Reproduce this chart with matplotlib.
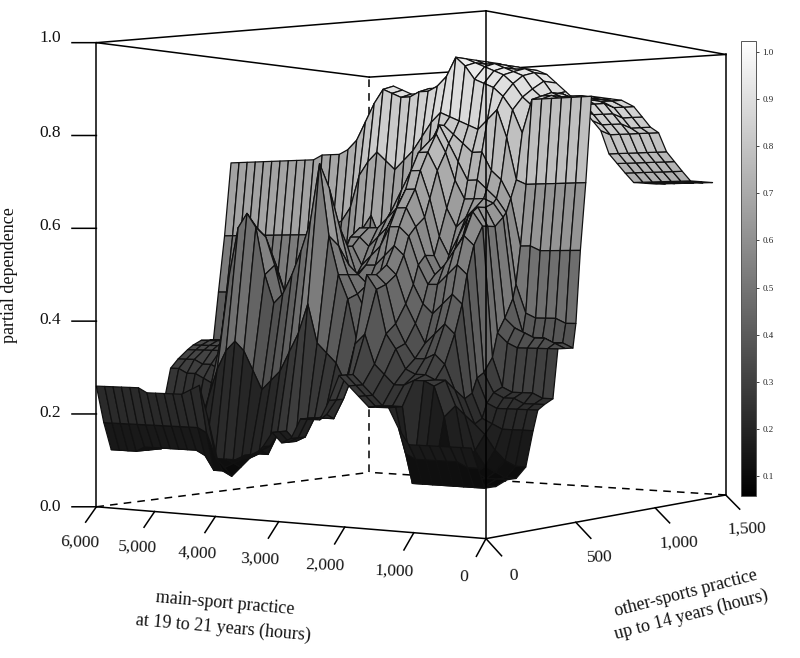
import matplotlib
matplotlib.use("Agg")
import matplotlib.pyplot as plt
import numpy as np
from matplotlib.colors import Normalize
from matplotlib.cm import ScalarMappable
from mpl_toolkits.mplot3d.art3d import Poly3DCollection

plt.rcParams['font.family'] = ['Liberation Serif', 'DejaVu Serif']

# grid of the surface (hours)
main_hours = [200, 345, 490, 635, 780, 925, 1070, 1215, 1360, 1505, 1650, 1795, 1940, 2085,
              2230, 2375, 2520, 2665, 2810, 2955, 3100, 3245, 3390, 3535, 3680, 3825, 3970,
              4115, 4260, 4405, 4550, 4695, 4840, 4985, 5130, 5275, 5420, 5565, 5710, 5855, 6000]
other_hours = [0, 35, 70, 130, 190, 240, 294, 335, 362, 400, 449, 478, 520, 567, 585, 612, 645,
               680, 740, 800, 870, 949, 1005, 1060, 1115, 1170, 1225, 1280, 1339, 1420, 1500]

# partial dependence x 100, one line per main-sport value, read along other-sports hours
z_near = [
    [17, 13, 9, 9, 10, 10, 12, 19, 23, 24, 25, 35, 35, 35, 40, 55, 69, 87, 87, 87, 87, 86, 84, 82, 81, 77, 75, 73, 71, 71, 71],
    [17, 13, 9, 9, 10, 10, 12, 19, 23, 24, 25, 35, 36, 36, 40, 55, 69, 87, 87, 87, 87, 86, 84, 82, 81, 77, 75, 73, 71, 71, 71],
    [17, 14, 9, 10, 10, 11, 13, 19, 23, 24, 26, 35, 37, 36, 41, 55, 69, 87, 87, 87, 87, 86, 84, 82, 81, 77, 75, 73, 71, 71, 71],
    [17, 14, 9, 10, 11, 12, 15, 19, 23, 25, 26, 35, 37, 37, 41, 55, 69, 87, 87, 88, 88, 87, 85, 83, 81, 77, 75, 73, 71, 71, 71],
    [17, 14, 9, 11, 13, 15, 18, 20, 23, 25, 26, 35, 38, 37, 41, 55, 69, 87, 87, 88, 88, 87, 85, 83, 81, 77, 75, 73, 71, 71, 71],
    [17, 14, 9, 22, 24, 22, 20, 21, 24, 26, 27, 36, 39, 38, 42, 56, 69, 87, 88, 88, 88, 87, 85, 83, 81, 77, 75, 73, 71, 71, 71],
    [17, 14, 9, 28, 29, 27, 25, 26, 29, 30, 33, 38, 41, 45, 48, 56, 69, 87, 88, 89, 89, 88, 86, 84, 82, 77, 75, 73, 71, 71, 71],
    [20, 15, 9, 29, 29, 32, 38, 44, 50, 56, 60, 60, 60, 62, 63, 66, 70, 80, 86, 88, 89, 90],
    [24, 24, 24, 29, 30, 34, 40, 46, 52, 58, 63, 64, 64, 65, 66, 70, 79, 85, 88, 90, 92, 92],
    [24, 24, 24, 28, 30, 33, 38, 44, 50, 55, 58, 62, 64, 66, 68, 72, 85, 88, 91, 93, 94, 94],
    [24, 24, 24, 28, 31, 33, 36, 42, 48, 52, 54, 58, 62, 66, 70, 76, 83, 90, 93, 94, 95, 95],
    [26, 26, 26, 30, 35, 36, 40, 44, 48, 50, 50, 54, 60, 66, 70, 76, 81, 91, 94, 95, 95, 95],
    [28, 28, 28, 32, 38, 40, 44, 48, 52, 54, 54, 58, 64, 70, 74, 78, 82, 92, 95, 96, 96, 96],
    [30, 30, 30, 38, 47, 48, 50, 54, 58, 60, 62, 66, 72, 76, 78, 80, 83, 95, 96, 96, 96, 96],
    [25, 25, 25, 36, 50, 50, 52, 56, 60, 64, 68, 72, 76, 80, 82, 82, 84, 97, 97, 97, 97, 97],
]
z_mid = [
    [21, 22, 21, 28, 36, 42, 48, 54, 60, 64, 68, 72, 76, 78, 78, 78, 85, 93, 94],
    [21, 21, 21, 32, 45, 46, 48, 52, 56, 60, 64, 68, 70, 70, 68, 70, 83, 91, 92],
    [21, 21, 21, 34, 50, 50, 50, 52, 54, 58, 62, 64, 62, 60, 60, 66, 80, 90, 91],
    [17, 17, 17, 36, 58, 56, 52, 50, 52, 56, 60, 60, 58, 54, 52, 62, 77, 90, 91],
    [16, 16, 16, 44, 73, 68, 60, 56, 56, 58, 60, 60, 56, 50, 47, 58, 75, 89, 90],
    [18, 18, 18, 38, 61, 60, 55, 52, 54, 58, 60, 58, 55, 52, 52, 60, 73, 89, 90],
    [15, 15, 17, 34, 55, 55, 50, 48, 50, 54, 55, 55, 52, 50, 50, 58, 75, 90, 91],
    [13, 14, 13, 30, 50, 50, 47, 45, 45, 48, 50, 52, 52, 50, 50, 63, 77, 91, 92],
    [13, 13, 13, 28, 46, 46, 43, 40, 39, 40, 42, 46, 48, 47, 47, 60, 75, 88, 90],
    [12, 12, 12, 26, 44, 44, 40, 36, 34, 34, 35, 38, 40, 42, 45, 58, 72, 84, 86],
    [12, 11, 10, 30, 50, 52, 46, 40, 37, 35, 35, 37, 38, 39, 41, 52, 65, 80, 81],
    [12, 10, 8, 34, 60, 58, 52, 46, 40, 36, 35, 36, 37, 38, 39, 50, 62, 78, 80],
    [20, 12, 9, 36, 63, 60, 54, 48, 42, 37, 35, 35, 36, 37, 38, 48, 61, 77],
    [27, 17, 9, 34, 60, 58, 52, 46, 41, 36, 34, 34, 35, 36, 37, 47, 60, 77],
]
z_far = [
    [26, 18, 12, 30, 50, 50, 45, 40, 36, 33, 32, 33, 34, 35, 36, 46, 59, 77],
    [25, 18, 13, 24, 36, 39, 36, 32, 30, 29, 30, 32, 34, 35, 35, 46, 59, 76],
    [25, 18, 13, 18, 25, 30, 30, 28, 27, 28, 30, 32, 34, 35, 35, 46, 59, 76],
    [25, 18, 13, 15, 20, 24, 24, 24, 26, 28, 31, 34, 35, 35, 35, 46, 59, 76],
    [25, 18, 13, 14, 15, 18, 20, 22, 25, 28, 32, 35, 35, 35, 35, 46, 59, 76],
    [25, 18, 13, 13, 14, 16, 18, 21, 25, 28, 33, 35, 35, 35, 35, 46, 59, 76],
    [26, 18, 13, 13, 13, 15, 16, 21, 26, 29, 33, 35, 35, 35, 35, 46, 59, 76],
    [26, 18, 13, 13, 13, 14, 15, 21, 27, 30, 33, 34, 35, 35, 35, 46, 59, 76],
    [26, 18, 12, 12, 12, 13, 14, 22, 28, 30, 33, 34, 35, 35, 35, 46, 59, 76],
    [26, 18, 12, 12, 12, 12, 13, 22, 28, 31, 33, 34, 35, 35, 35, 46, 59, 76],
    [26, 18, 12, 12, 12, 12, 13, 23, 29, 31, 33, 34, 35, 35, 35, 46, 59, 76],
    [26, 18, 12, 12, 12, 12, 13, 23, 29, 31, 33, 34, 35, 35, 35, 46, 59, 76],
]

main_ticks = [0, 1000, 2000, 3000, 4000, 5000, 6000]
main_labels = ["0", "1,000", "2,000", "3,000", "4,000", "5,000", "6,000"]
other_ticks = [0, 500, 1000, 1500]
other_labels = ["0", "500", "1,000", "1,500"]
dep_ticks = [0.0, 0.2, 0.4, 0.6, 0.8, 1.0]
bar_ticks = [0.1, 0.2, 0.3, 0.4, 0.5, 0.6, 0.7, 0.8, 0.9, 1.0]

W, H = 800, 658
fig = plt.figure(figsize=(W / 100, H / 100), dpi=100)
ax = fig.add_axes([29 / W, -7 / H, 760 / W, 760 / H], projection='3d')
ax.set_proj_type('persp', focal_length=0.533)
ax.set_box_aspect((1, 1, 1))
ax.view_init(elev=0, azim=-145.3)
ax.computed_zorder = False
ax.set_axis_off()

norm = Normalize(0.058, 1.023)
cmap = plt.get_cmap('gray')

# surface cells, some of the far ones have no data
columns = z_near + z_mid + z_far
polys = []
shades = []
for j in range(len(columns) - 1):
    a = columns[j]
    b = columns[j + 1]
    for i in range(min(len(a), len(b)) - 1):
        zs = [a[i] / 100, b[i] / 100, b[i + 1] / 100, a[i + 1] / 100]
        polys.append([(other_hours[i], main_hours[j], zs[0]),
                      (other_hours[i], main_hours[j + 1], zs[1]),
                      (other_hours[i + 1], main_hours[j + 1], zs[2]),
                      (other_hours[i + 1], main_hours[j], zs[3])])
        shades.append(np.mean(zs))
surf = Poly3DCollection(polys, facecolors=cmap(norm(shades)), edgecolors='#111111',
                        linewidths=0.9, zorder=2)
ax.add_collection3d(surf)


def box_line(xs, ys, zs, dashed=False, front=True):
    ax.plot(xs, ys, zs, color='black', lw=1.1, ls=(0, (5, 4)) if dashed else '-',
            zorder=3 if front else 1)


# box: x is other-sports, y is main-sport
box_line([1500, 1500], [6000, 6000], [0, 1], dashed=True, front=False)
box_line([0, 1500], [6000, 6000], [0, 0], dashed=True, front=False)
box_line([1500, 1500], [0, 6000], [0, 0], dashed=True, front=False)
box_line([0, 1500], [6000, 6000], [1, 1], front=False)
box_line([1500, 1500], [0, 6000], [1, 1], front=False)
box_line([0, 0], [6000, 6000], [0, 1])
box_line([1500, 1500], [0, 0], [0, 1])
box_line([0, 0], [0, 0], [0, 1])
box_line([0, 0], [0, 6000], [1, 1])
box_line([0, 1500], [0, 0], [1, 1])
box_line([0, 0], [0, 6000], [0, 0])
box_line([0, 1500], [0, 0], [0, 0])

for t in main_ticks:
    box_line([0, -50], [t, t], [0, -0.03])
for t in other_ticks:
    box_line([t, t], [0, -210], [0, -0.03])
for t in dep_ticks:
    box_line([0, -45], [6000, 6259], [t, t])

ax.set_xlim(0, 1500)
ax.set_ylim(0, 6000)
ax.set_zlim(0, 1)


def put(x, y, s, rot=0.0, size=12.5):
    fig.text(x / W, 1 - y / H, s, ha='center', va='center', rotation=rot,
             rotation_mode='anchor', fontsize=size, color='#111111')


main_xy = [(464, 577), (394, 571), (325, 565), (260, 559), (197, 553), (138, 547), (80, 542)]
for (x, y), s in zip(main_xy, main_labels):
    put(x, y, s, -2)
other_xy = [(514, 576), (600, 558), (679, 543), (747, 529)]
for (x, y), s in zip(other_xy, other_labels):
    put(x, y, s, 2)
dep_y = [507, 413, 320, 226, 133, 38]
for y, t in zip(dep_y, dep_ticks):
    put(50, y, "%.1f" % t)
put(10, 275, "partial dependence", 90, 13)
put(225, 604, "main-sport practice", -5, 13)
put(223, 628, "at 19 to 21 years (hours)", -5, 13)
put(686, 593, "other-sports practice", 14.5, 13)
put(691, 615, "up to 14 years (hours)", 14.5, 13)

# grey scale bar
cax = fig.add_axes([741 / W, 1 - 496 / H, 15 / W, 455 / H])
cb = fig.colorbar(ScalarMappable(norm=norm, cmap=cmap), cax=cax)
cb.set_ticks(bar_ticks)
cb.set_ticklabels(["%.1f" % t for t in bar_ticks])
cb.ax.tick_params(labelsize=6.5, length=2.5, width=0.6, pad=2, colors='#222222')
cb.outline.set_edgecolor('#555555')
cb.outline.set_linewidth(0.7)

fig.savefig("out.png", dpi=100)
